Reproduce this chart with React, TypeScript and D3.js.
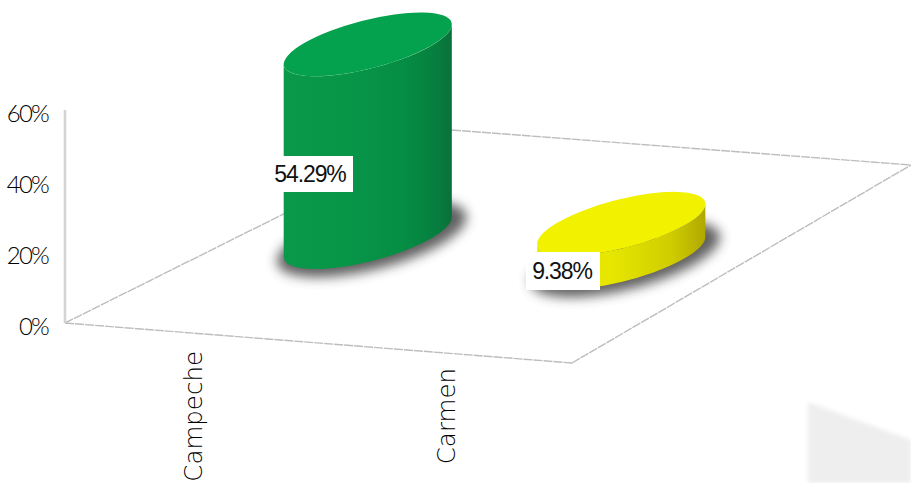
import React from "react";
import * as d3 from "d3";

const categories = ["Campeche", "Carmen"];
const seriesValues = [54.29, 9.38];
const valueLabels = ["54.29%", "9.38%"];
const yTicks = [0, 20, 40, 60];
const sideStops = [
  [[0, "#0a984a"], [0.4, "#079548"], [0.72, "#058d44"], [0.9, "#067f3e"], [1, "#0b7039"]],
  [[0, "#e9e900"], [0.45, "#e6e600"], [0.8, "#d0cc00"], [1, "#b0a800"]],
] as [number, string][][];
const topColors = ["#04a24e", "#f1f100"];

const W = 911, H = 483;
const floor = { x0: 65, y0: 323, x1: 572, y1: 363, backX: 452, backY: 130, farX: 911, farY: 165 };
const y = d3.scaleLinear().domain([0, 60]).range([323, 110]);
const band = d3.scaleBand<string>().domain(categories).range([floor.x0 + 1, floor.x1 + 1]);
const frontY = d3.scaleLinear().domain([floor.x0, floor.x1]).range([floor.y0, floor.y1]);
const depth = { dx: 175, dy: -96 };
const a = 86.6, b = 24.2, rot = -14.5;
const rad = (rot * Math.PI) / 180;
const hx = Math.sqrt(a * a * Math.cos(rad) ** 2 + b * b * Math.sin(rad) ** 2);
const hy = Math.abs(((a * a - b * b) * Math.sin(rad) * Math.cos(rad)) / hx);

const TICK_FONT = "Lato, 'Noto Sans', sans-serif";
const CAT_FONT = "'DejaVu Sans', sans-serif";
const LABEL_FONT = "'Liberation Sans', Arial, sans-serif";

export default function App() {
  const bw = band.bandwidth();
  const line = d3.line();
  return (
    <svg width={W} height={H} viewBox={`0 0 ${W} ${H}`} style={{ position: "absolute", left: 0, top: 0, background: "#fff" }}>
      <defs>
        <filter id="soft" x="-5%" y="-5%" width="110%" height="110%" colorInterpolationFilters="sRGB"><feGaussianBlur stdDeviation="0.5" /></filter>
        <filter id="shadowBlur" x="-30%" y="-60%" width="160%" height="220%" colorInterpolationFilters="sRGB"><feGaussianBlur stdDeviation="6" /></filter>
        <filter id="cornerBlur" x="-10%" y="-10%" width="120%" height="120%" colorInterpolationFilters="sRGB"><feGaussianBlur stdDeviation="2" /></filter>
        {sideStops.map((stops, i) => (
          <linearGradient key={i} id={`side${i}`} x1="0" x2="1" y1="0" y2="0">
            {stops.map(([o, c]) => <stop key={o} offset={o} stopColor={c} />)}
          </linearGradient>
        ))}
      </defs>

      <path d={`M808,402L911,440V483H808Z`} fill="#eeeeee" filter="url(#cornerBlur)" />

      <g fill="none" stroke="#bdbdbd" strokeWidth={1.4} strokeDasharray="9 1" filter="url(#soft)">
        <path d={line([[floor.x0, floor.y0], [floor.backX, floor.backY]])!} />
        <path d={line([[floor.backX, floor.backY], [floor.farX, floor.farY]])!} />
        <path d={line([[floor.x1, floor.y1], [floor.farX, floor.farY]])!} />
        <path d={line([[floor.x0, floor.y0], [floor.x1, floor.y1]])!} />
        <path d={line([[floor.x0, y(0)], [floor.x0, y(60)]])!} stroke="#d4d4d4" strokeWidth={2.6} strokeDasharray="none" />
      </g>

      {yTicks.map((t) => (
        <text key={t} x={48} y={y(t) + 12} textAnchor="end" fontFamily={TICK_FONT} fontWeight={300} fontSize={24} fill="#000" letterSpacing={-1.8}>{`${t}%`}</text>
      ))}

      {categories.map((c, i) => {
        const fx = band(c)! + bw / 2;
        const cx = fx + depth.dx;
        const baseY = frontY(fx) + depth.dy;
        const topY = baseY - (y(0) - y(seriesValues[i]));
        const side = `M${cx - hx},${topY + hy}L${cx - hx},${baseY + hy}A${a},${b} ${rot} 0 0 ${cx + hx},${baseY - hy}L${cx + hx},${topY - hy}A${a},${b} ${rot} 0 1 ${cx - hx},${topY + hy}Z`;
        const tw = i === 0 ? 83 : 74;
        const lx = i === 0 ? 270 : 526;
        const ly = i === 0 ? 156 : 252;
        const lh = i === 0 ? 36 : 38;
        return (
          <g key={c}>
            <ellipse cx={cx + 4} cy={baseY + 2} rx={a + 11} ry={b + 6} transform={`rotate(${rot} ${cx + 4} ${baseY + 2})`} fill="#3a3a3a" opacity={0.8} filter="url(#shadowBlur)" />
            <g filter="url(#soft)">
              <path d={side} fill={`url(#side${i})`} />
              <ellipse cx={cx} cy={topY} rx={a} ry={b} transform={`rotate(${rot} ${cx} ${topY})`} fill={topColors[i]} />
            </g>
            <rect x={lx} y={ly} width={tw} height={lh} fill="#fff" />
            <text x={lx + tw / 2 - (i === 0 ? 1.5 : 1)} y={ly + lh / 2 + 8} textAnchor="middle" fontFamily={LABEL_FONT} fontSize={23} letterSpacing={-1.1} fill="#111">{valueLabels[i]}</text>
            <text transform={`translate(${fx + 9},${i === 0 ? 351 : 368}) rotate(-90)`} textAnchor="end" fontFamily={CAT_FONT} fontWeight={200} fontSize={24.5} fill="#000">{c}</text>
          </g>
        );
      })}
    </svg>
  );
}
